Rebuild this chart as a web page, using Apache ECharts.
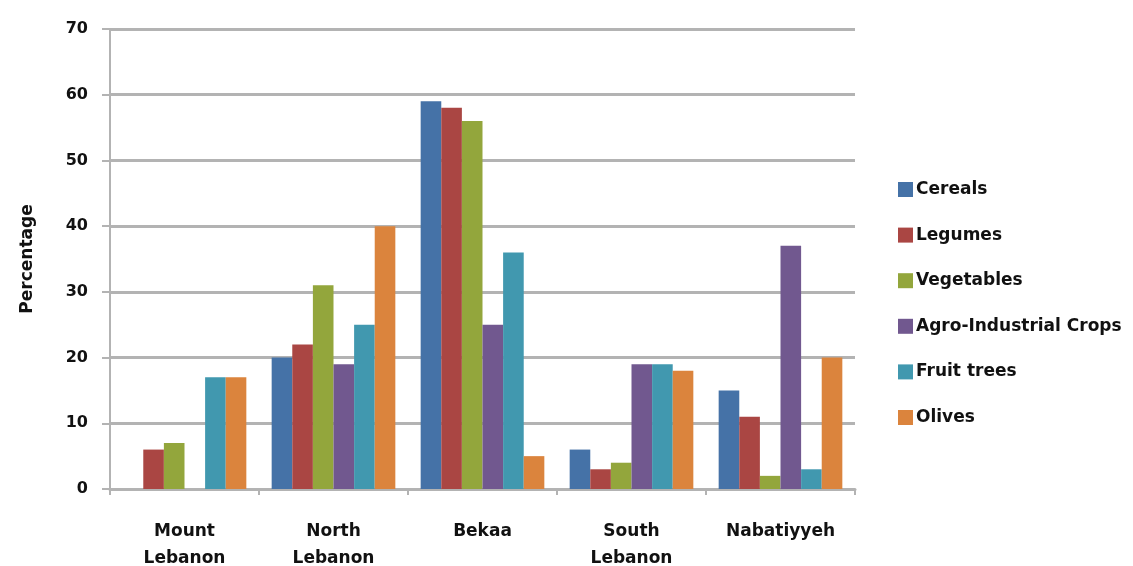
<!DOCTYPE html>
<html>
<head>
<meta charset="utf-8">
<script src="https://cdn.jsdelivr.net/npm/echarts@6/dist/echarts.min.js"></script>
<style>
  html, body { margin: 0; padding: 0; background: #fff; }
  #container { width: 1133px; height: 566px; }
</style>
</head>
<body>
<div id="container"></div>
<script>
var regions = ['Mount\nLebanon', 'North\nLebanon', 'Bekaa', 'South\nLebanon', 'Nabatiyyeh'];
var seriesNames = ['Cereals', 'Legumes', 'Vegetables', 'Agro-Industrial Crops', 'Fruit trees', 'Olives'];
var colors = ['#4572A7', '#AA4643', '#93A63C', '#71588F', '#4198AF', '#DB843D'];

var cereals    = [0, 20, 59, 6, 15];
var legumes    = [6, 22, 58, 3, 11];
var vegetables = [7, 31, 56, 4, 2];
var agro       = [0, 19, 25, 19, 37];
var fruitTrees = [17, 25, 36, 19, 3];
var olives     = [17, 40, 5, 18, 20];

var values = [cereals, legumes, vegetables, agro, fruitTrees, olives];

var dom = document.getElementById('container');
var myChart = echarts.init(dom, null, {
  renderer: 'canvas',
  useDirtyRect: false
});

var font = 'DejaVu Sans';

var series = [];
for (var i = 0; i < seriesNames.length; i++) {
  series.push({
    name: seriesNames[i],
    type: 'bar',
    data: values[i],
    barGap: '0%',
    barCategoryGap: '17%',
    itemStyle: { color: colors[i] }
  });
}

var option = {
  animation: false,
  textStyle: { fontFamily: font },
  grid: {
    left: 110,
    right: 278,
    top: 29,
    bottom: 77,
    outerBoundsMode: 'none'
  },
  legend: {
    orient: 'vertical',
    left: 893,
    top: 176,
    itemWidth: 15,
    itemHeight: 15,
    itemGap: 28.6,
    icon: 'rect',
    data: seriesNames,
    textStyle: {
      fontFamily: font,
      fontWeight: 'bold',
      fontSize: 17,
      color: '#111',
      padding: [0, 0, 0, -2]
    }
  },
  xAxis: {
    type: 'category',
    data: regions,
    axisLine: { lineStyle: { color: '#b3b3b3', width: 3 } },
    axisTick: { show: true, length: 6, lineStyle: { color: '#b3b3b3', width: 2 } },
    axisLabel: {
      margin: 29,
      fontFamily: font,
      fontWeight: 'bold',
      fontSize: 17,
      color: '#111',
      lineHeight: 27
    }
  },
  yAxis: {
    type: 'value',
    min: 0,
    max: 70,
    interval: 10,
    name: 'Percentage',
    nameLocation: 'middle',
    nameGap: 74,
    nameTextStyle: {
      fontFamily: font,
      fontWeight: 'bold',
      fontSize: 17,
      color: '#111'
    },
    axisLine: { show: true, lineStyle: { color: '#b3b3b3', width: 2 } },
    axisTick: { show: true, length: 8, lineStyle: { color: '#b3b3b3', width: 2 } },
    axisLabel: {
      margin: 22,
      fontFamily: font,
      fontWeight: 'bold',
      fontSize: 16,
      color: '#111'
    },
    splitLine: { lineStyle: { color: '#b3b3b3', width: 3 } }
  },
  series: series
};

if (option && typeof option === 'object') {
  myChart.setOption(option);
}

window.addEventListener('resize', myChart.resize);
</script>
</body>
</html>
